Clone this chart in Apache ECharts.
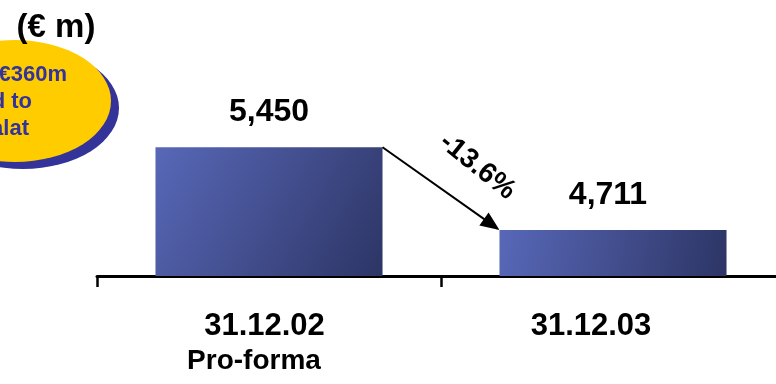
<!DOCTYPE html>
<html>
<head>
<meta charset="utf-8">
<script src="https://cdn.jsdelivr.net/npm/echarts@6/dist/echarts.min.js"></script>
<style>
  html, body { margin: 0; padding: 0; background: #fff; }
  #chart { width: 776px; height: 384px; }
</style>
</head>
<body>
<div id="chart"></div>
<script>
// Period-end figures, € million
var categories = ['31.12.02', '31.12.03'];
var subLabels = ['Pro-forma', ''];
var values = [5450, 4711];
var unitLabel = '(€ m)';
var noteLines = ['€360m', 'd to', 'alat'];

var FONT = '"Liberation Sans", Arial, sans-serif';
var chart = echarts.init(document.getElementById('chart'), null, { renderer: 'canvas' });

function fmt(v) {
  return v.toLocaleString('en-US');
}

var barColor = new echarts.graphic.LinearGradient(0, 0, 1, 1, [
  { offset: 0, color: '#5868b8' },
  { offset: 1, color: '#2d3565' }
]);

chart.setOption({
  animation: false,
  grid: {
    left: 97, width: 688, top: 108, height: 168,
    containLabel: false,
    outerBoundsMode: 'none'
  },
  xAxis: {
    type: 'category',
    data: categories,
    boundaryGap: true,
    axisLine: { show: true, lineStyle: { color: '#000', width: 3 } },
    axisTick: { show: true, length: 11, lineStyle: { color: '#000', width: 2.5 } },
    axisLabel: {
      margin: 33,
      interval: 0,
      formatter: function (v, i) {
        if (subLabels[i]) {
          return '{a|' + v + '}\n{b|' + subLabels[i] + '}';
        }
        return '{c|' + v + '}';
      },
      rich: {
        a: { fontFamily: FONT, fontWeight: 'bold', fontSize: 31, lineHeight: 35, color: '#000', padding: [0, 9, 0, 0] },
        b: { fontFamily: FONT, fontWeight: 'bold', fontSize: 28, lineHeight: 35, color: '#000', padding: [0, 30, 0, 0] },
        c: { fontFamily: FONT, fontWeight: 'bold', fontSize: 31, lineHeight: 35, color: '#000', padding: [0, 44, 0, 0] }
      }
    },
    splitLine: { show: false }
  },
  yAxis: {
    type: 'value',
    min: 4300,
    max: 5800,
    show: false,
    splitLine: { show: false }
  },
  series: [{
    type: 'bar',
    data: values.map(function (v, i) {
      return { value: v, label: { offset: [i === 1 ? -5 : 0, 0] } };
    }),
    barWidth: '66%',
    itemStyle: { color: barColor },
    label: {
      show: true,
      position: 'top',
      distance: 19,
      formatter: function (p) { return fmt(p.value); },
      fontFamily: FONT,
      fontWeight: 'bold',
      fontSize: 32,
      color: '#000'
    }
  }]
});

// Change arrow between the two bar tops, plus the callout bubble
function drawOverlay() {
  var p1 = chart.convertToPixel({ seriesIndex: 0 }, [0, values[0]]);
  var p2 = chart.convertToPixel({ seriesIndex: 0 }, [1, values[1]]);
  var half = (p2[0] - p1[0]) * 0.33;
  var sx = p1[0] + half, sy = p1[1];
  var ex = p2[0] - half, ey = p2[1];
  var dx = ex - sx, dy = ey - sy;
  var len = Math.sqrt(dx * dx + dy * dy);
  var ux = dx / len, uy = dy / len;
  var nx = uy, ny = -ux;
  var headLen = 19, headHalf = 8;
  var bx = ex - ux * headLen, by = ey - uy * headLen;

  var pct = ((values[1] - values[0]) / values[0] * 100).toFixed(1) + '%';
  var mx = (sx + ex) / 2, my = (sy + ey) / 2;
  var tx = mx + nx * 39 + ux * 17;
  var ty = my + ny * 39 + uy * 17;

  var el = [
    // bubble shadow
    {
      type: 'circle', x: 23, y: 108, scaleX: 96 / 61, scaleY: 1,
      shape: { cx: 0, cy: 0, r: 61 },
      style: { fill: '#333399' }, z: 10
    },
    // bubble
    {
      type: 'circle', x: 15, y: 101, scaleX: 96 / 61, scaleY: 1,
      shape: { cx: 0, cy: 0, r: 61 },
      style: { fill: '#ffcc00' }, z: 11
    },
    {
      type: 'text', x: 56, y: 28, z: 12,
      style: {
        text: unitLabel, fill: '#000', font: 'bold 33px ' + FONT,
        textAlign: 'center', textVerticalAlign: 'middle'
      }
    },
    // arrow shaft and head
    {
      type: 'line', z: 12,
      shape: { x1: sx, y1: sy, x2: bx + ux * 2, y2: by + uy * 2 },
      style: { stroke: '#000', lineWidth: 2 }
    },
    {
      type: 'polygon', z: 12,
      shape: { points: [[ex, ey], [bx + nx * headHalf, by + ny * headHalf], [bx - nx * headHalf, by - ny * headHalf]] },
      style: { fill: '#000' }
    },
    {
      type: 'text', x: tx, y: ty, z: 12,
      rotation: -Math.atan2(dy, dx) - 0.06,
      style: {
        text: pct, fill: '#000', font: 'bold 28px ' + FONT,
        textAlign: 'center', textVerticalAlign: 'middle'
      }
    }
  ];

  var ends = [67, 32, 29];
  var bases = [86, 113, 140];
  for (var i = 0; i < noteLines.length; i++) {
    el.push({
      type: 'text', x: ends[i], y: bases[i], z: 13,
      style: {
        text: noteLines[i], fill: '#333399', font: 'bold 22px ' + FONT,
        textAlign: 'right', textVerticalAlign: 'bottom'
      }
    });
  }
  chart.setOption({ graphic: { elements: el } });
}
drawOverlay();
</script>
</body>
</html>
